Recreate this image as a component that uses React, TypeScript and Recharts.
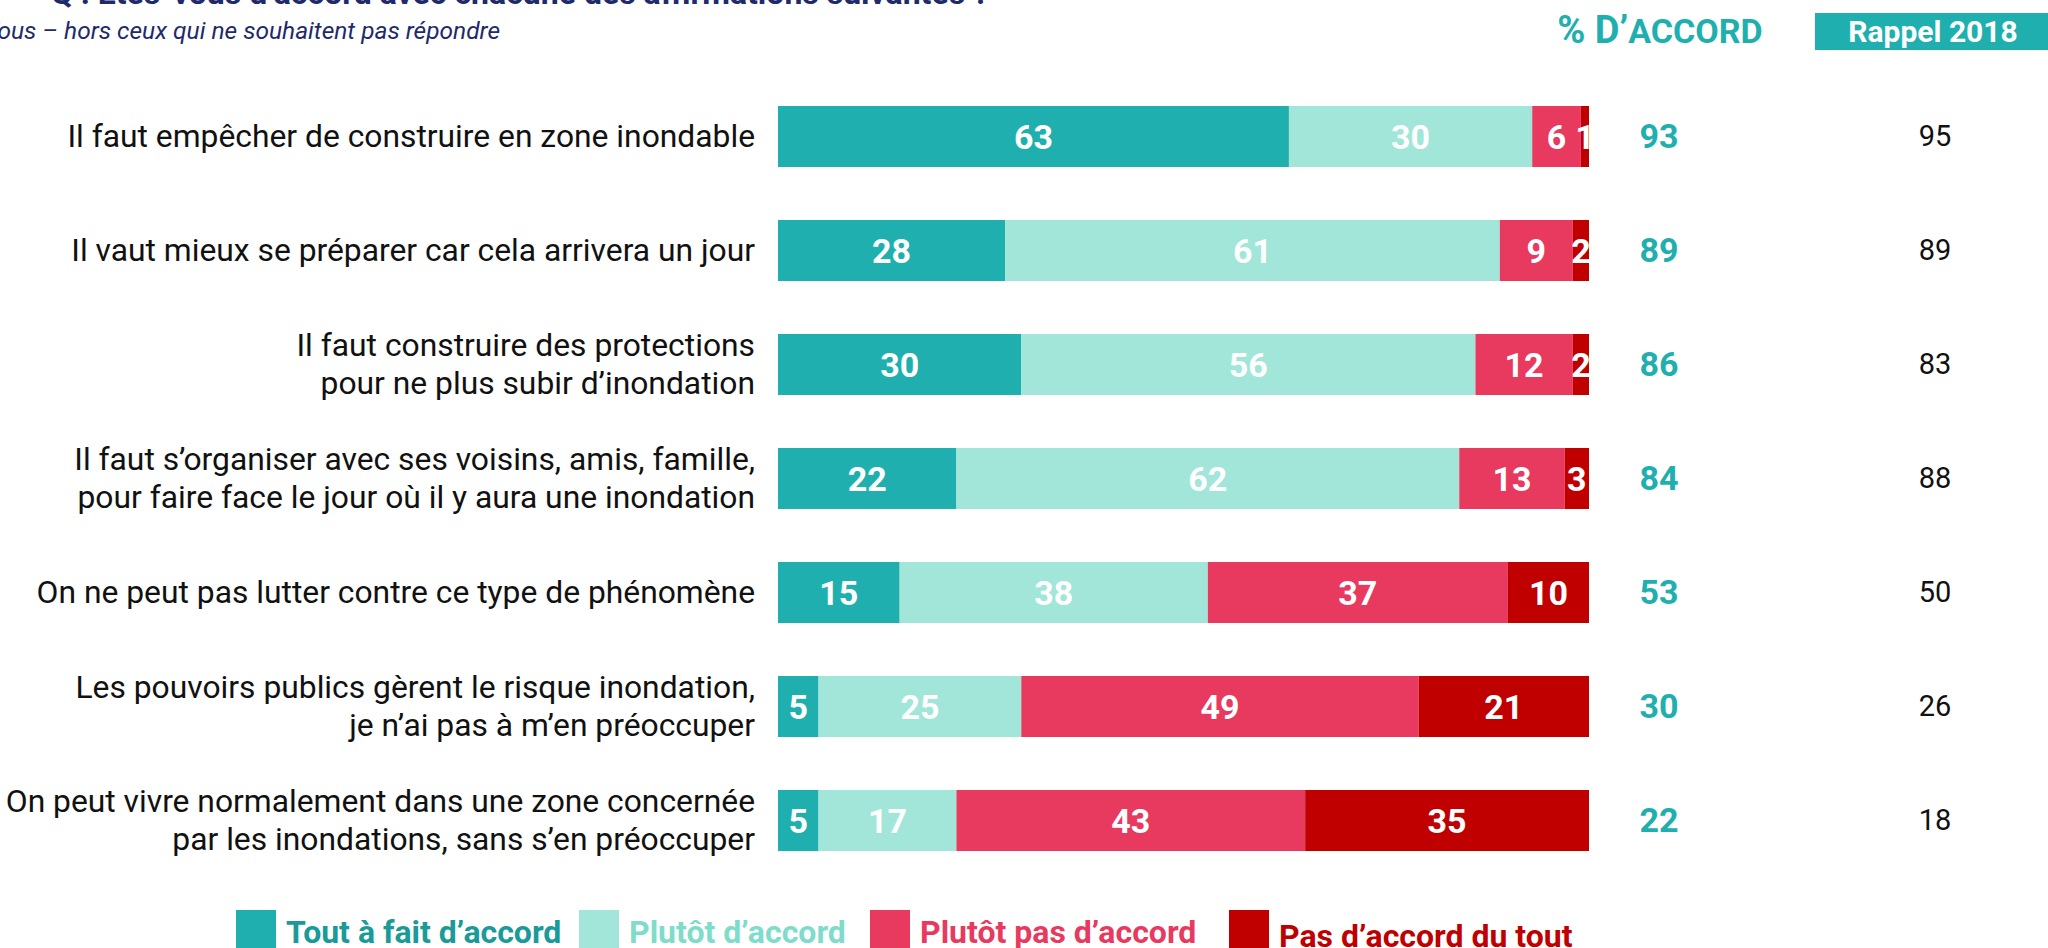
import React from 'react';
import { BarChart, Bar, XAxis, YAxis, LabelList } from 'recharts';

const categories = [
  'Il faut empêcher de construire en zone inondable',
  'Il vaut mieux se préparer car cela arrivera un jour',
  'Il faut construire des protections\npour ne plus subir d’inondation',
  'Il faut s’organiser avec ses voisins, amis, famille,\npour faire face le jour où il y aura une inondation',
  'On ne peut pas lutter contre ce type de phénomène',
  'Les pouvoirs publics gèrent le risque inondation,\nje n’ai pas à m’en préoccuper',
  'On peut vivre normalement dans une zone concernée\npar les inondations, sans s’en préoccuper',
];
const toutAFait = [63, 28, 30, 22, 15, 5, 5];
const plutot = [30, 61, 56, 62, 38, 25, 17];
const plutotPas = [6, 9, 12, 13, 37, 49, 43];
const pasDuTout = [1, 2, 2, 3, 10, 21, 35];
const accord = [93, 89, 86, 84, 53, 30, 22];
const rappel2018 = [95, 89, 83, 88, 50, 26, 18];

const seriesNames = ['Tout à fait d’accord', 'Plutôt d’accord', 'Plutôt pas d’accord', 'Pas d’accord du tout'];
const seriesKeys = ['a', 'b', 'c', 'd'];
const seriesColors = ['#1FAFAE', '#A1E6D9', '#E8395E', '#C00000'];
const legendTextColors = ['#1A9A98', '#7FDCCB', '#E8395E', '#C00000'];

const data = categories.map((name, i) => ({
  name,
  a: toutAFait[i],
  b: plutot[i],
  c: plutotPas[i],
  d: pasDuTout[i],
  accord: accord[i],
  rappel: rappel2018[i],
}));

const FONT = "'Roboto', sans-serif";
const TEAL = '#1FAFAE';
const NAVY = '#1F2A6B';

const CategoryTick = (props: any) => {
  const { x, y, payload } = props;
  const lines = String(payload.value).split('\n');
  const lh = 38;
  const start = -((lines.length - 1) * lh) / 2;
  return (
    <text x={x} y={y} textAnchor="end" fontFamily={FONT} fontSize={31.8} fill="#111">
      {lines.map((l, i) => (
        <tspan key={i} x={x} y={y + start + i * lh} dy="0.36em">
          {l}
        </tspan>
      ))}
    </text>
  );
};

const RightTick = (props: any) => {
  const { x, y, index } = props;
  return (
    <g>
      <text x={x + 70} y={y} dy="0.36em" textAnchor="middle" fontFamily={FONT} fontWeight={700} fontSize={34} fill={TEAL}>
        {accord[index]}
      </text>
      <text x={x + 346} y={y} dy="0.36em" textAnchor="middle" fontFamily={FONT} fontSize={29} fill="#111">
        {rappel2018[index]}
      </text>
    </g>
  );
};

const legendX = [236, 579, 870, 1229];

export default function App() {
  return (
    <div style={{ position: 'fixed', left: 0, top: 0, width: 2048, height: 948, background: '#fff', overflow: 'hidden' }}>
      <BarChart
        width={2048}
        height={948}
        data={data}
        layout="vertical"
        margin={{ top: 79, right: 0, bottom: 71, left: 0 }}
      >
        <XAxis type="number" domain={[0, 100]} hide />
        <YAxis
          yAxisId="left"
          type="category"
          dataKey="name"
          width={778}
          axisLine={false}
          tickLine={false}
          tickSize={0}
          tickMargin={23}
          interval={0}
          tick={<CategoryTick />}
        />
        <YAxis
          yAxisId="right"
          orientation="right"
          type="category"
          dataKey="name"
          width={459}
          axisLine={false}
          tickLine={false}
          tickSize={0}
          tickMargin={0}
          interval={0}
          tick={<RightTick />}
        />
        {seriesKeys.map((k, i) => (
          <Bar
            key={k}
            yAxisId="left"
            dataKey={k}
            name={seriesNames[i]}
            stackId="s"
            fill={seriesColors[i]}
            barSize={61}
            isAnimationActive={false}
          >
            <LabelList
              dataKey={k}
              position="center"
              fill="#fff"
              fontFamily={FONT}
              fontWeight={700}
              fontSize={34}
            />
          </Bar>
        ))}
      </BarChart>
      <svg width={2048} height={948} style={{ position: 'absolute', left: 0, top: 0, pointerEvents: 'none' }}>
        <text x={989} y={4} textAnchor="end" fontFamily={FONT} fontWeight={700} fontSize={32} fill={NAVY}>
          Q : Etes-vous d’accord avec chacune des affirmations suivantes ?
        </text>
        <text x={500} y={39} textAnchor="end" fontFamily={FONT} fontStyle="italic" fontSize={24.5} fill={NAVY}>
          Base : Tous – hors ceux qui ne souhaitent pas répondre
        </text>
        <text x={1660} y={43} textAnchor="middle" fontFamily={FONT} fontWeight={700} fill={TEAL}>
          <tspan fontSize={38}>% D’</tspan>
          <tspan fontSize={34}>ACCORD</tspan>
        </text>
        <rect x={1815} y={13} width={233} height={37} fill={TEAL} />
        <text x={1933} y={42} textAnchor="middle" fontFamily={FONT} fontWeight={700} fontSize={30} fill="#fff">
          Rappel 2018
        </text>
        {seriesNames.map((n, i) => (
          <g key={n}>
            <rect x={legendX[i]} y={910} width={40} height={40} fill={seriesColors[i]} />
            <text
              x={legendX[i] + 50}
              y={i === 3 ? 947 : 943}
              fontFamily={FONT}
              fontWeight={700}
              fontSize={32}
              fill={legendTextColors[i]}
            >
              {n}
            </text>
          </g>
        ))}
      </svg>
    </div>
  );
}
